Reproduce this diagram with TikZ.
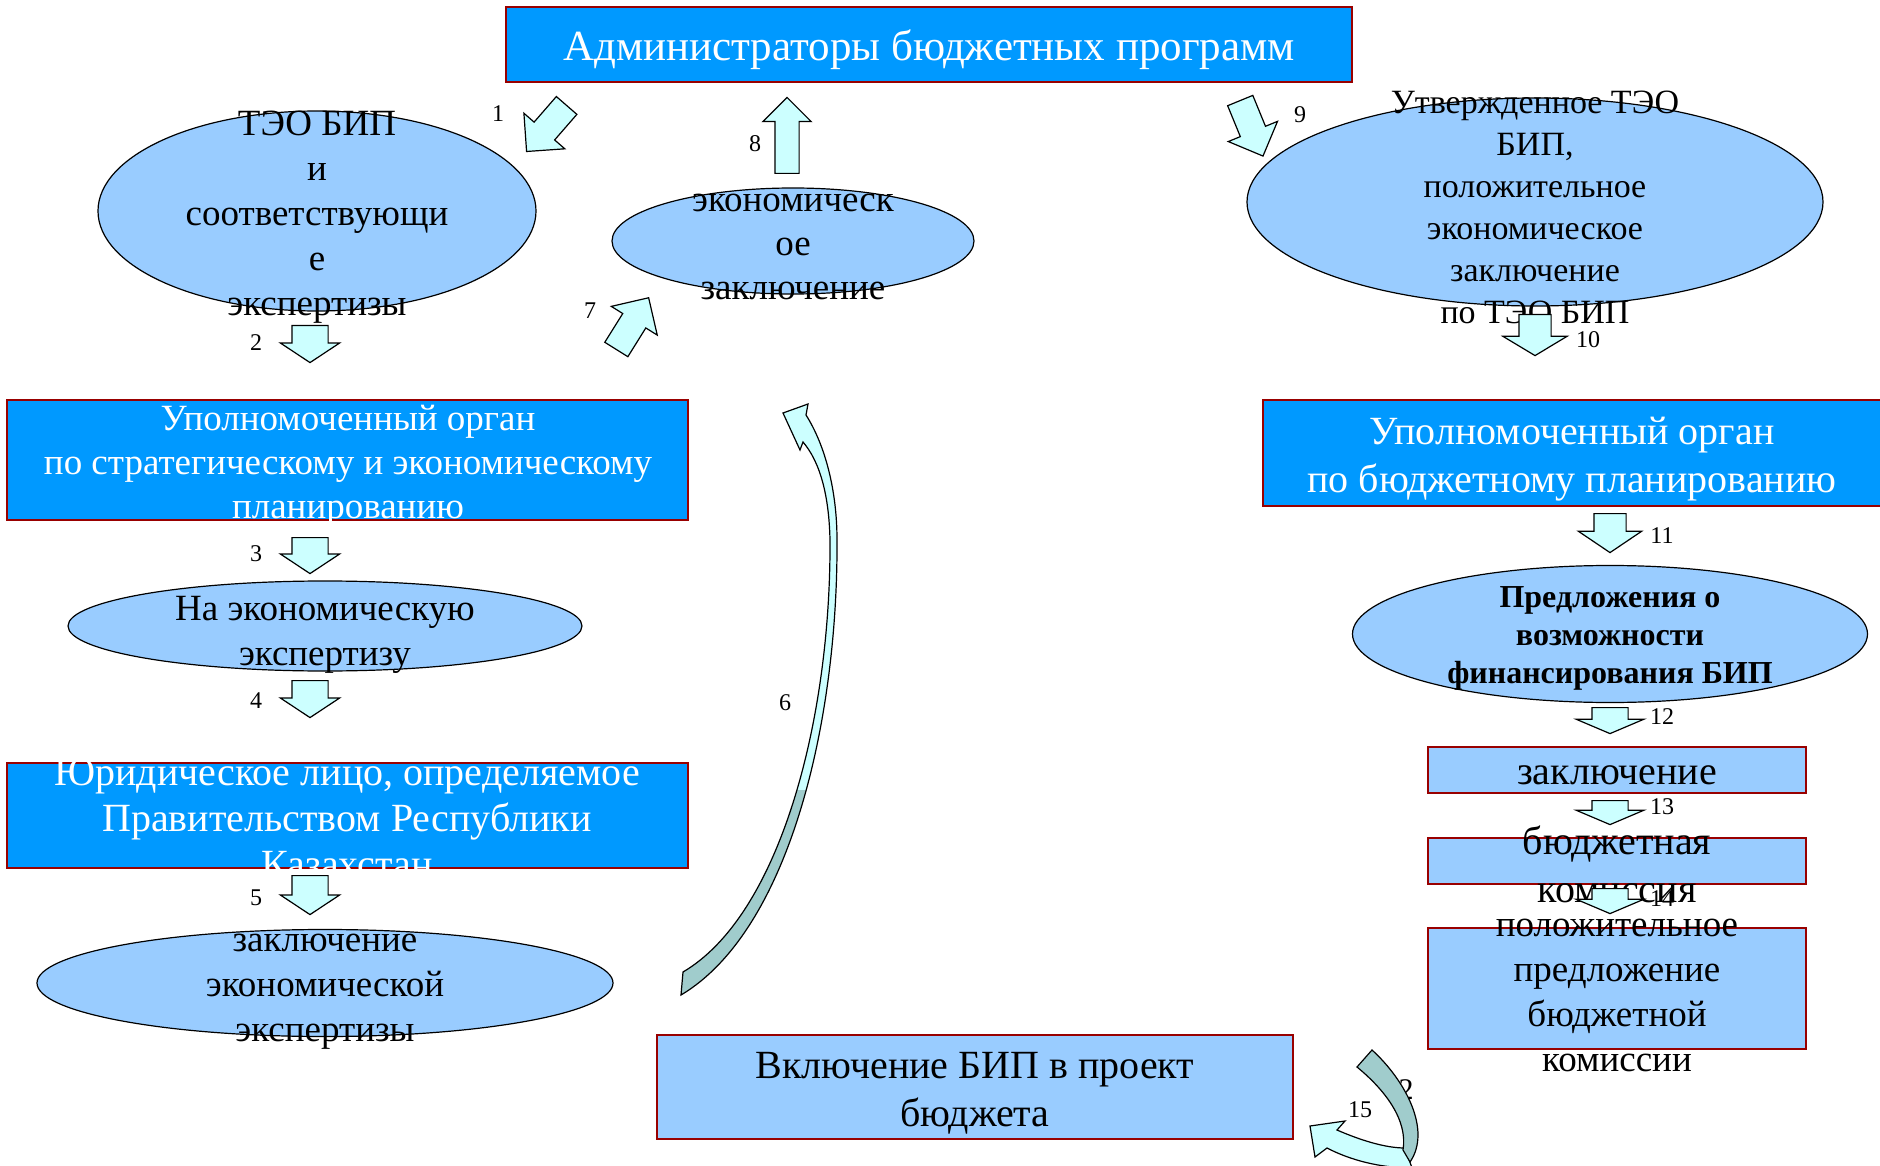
\documentclass[tikz,border=0pt]{standalone}
\usepackage{fontspec}
\setmainfont{Liberation Serif}
\usepackage{tikz}
\usetikzlibrary{shapes}
\usetikzlibrary{shapes.arrows}
\usetikzlibrary{positioning}

\definecolor{boxblue}{RGB}{0,153,255}
\definecolor{ellblue}{RGB}{153,204,255}
\definecolor{boxred}{RGB}{153,0,0}
\definecolor{arrcyan}{RGB}{204,255,255}
\definecolor{arrteal}{RGB}{160,204,204}

% curved arrow 6 and the turning arrow 15
\newcommand{\sixribbon}{(806,415) .. controls (825,445) and (837,490) .. (837,540)
  .. controls (838,720) and (790,930) .. (681,995) -- (683,972)
  .. controls (780,915) and (831,720) .. (830,540)
  .. controls (829,495) and (820,462) .. (803,442)
  -- (800,450) -- (783,413) -- (808,404) -- cycle}
\newcommand{\fifteenhead}{(1405,1148) .. controls (1385,1148) and (1360,1140) .. (1337,1130)
  -- (1345,1121) -- (1310,1126) -- (1315,1157) -- (1327,1148)
  .. controls (1350,1160) and (1380,1168) .. (1412,1168) -- cycle}
\newcommand{\fifteentail}{(1357,1067) -- (1372,1050)
  .. controls (1405,1080) and (1432,1130) .. (1410,1162) -- (1403,1150)
  .. controls (1408,1120) and (1385,1090) .. (1357,1067) -- cycle}

\begin{document}
\begin{tikzpicture}[x=1pt,y=-1pt]
\tikzstyle{bluebox} = [rectangle, draw=boxred, line width=2pt, fill=boxblue]
\tikzstyle{paleblock} = [rectangle, draw=boxred, line width=2pt, fill=ellblue]
\tikzstyle{cloud} = [ellipse, draw=black, line width=1.2pt, fill=ellblue]
\tikzstyle{whitetext} = [text=white, align=center, inner sep=0pt]
\tikzstyle{blacktext} = [align=center, inner sep=0pt]
\tikzstyle{num} = [inner sep=0pt, font=\fontsize{24}{28}\selectfont]
\tikzstyle{barrow} = [single arrow, draw=black, line width=1.2pt, fill=arrcyan, inner xsep=0pt, anchor=tail]
\tikzstyle{downbig} = [barrow, rotate=-90, inner ysep=17.5pt, minimum width=58, single arrow head extend=11.5, single arrow tip angle=113]
\tikzstyle{downflat} = [barrow, rotate=-90, inner ysep=17.5pt, minimum width=66, single arrow head extend=15.5, single arrow tip angle=134]
\tikzstyle{slant} = [barrow, inner ysep=13pt, minimum height=61, minimum width=53, single arrow head extend=13.5]

\useasboundingbox (0,0) rectangle (1880,1166);

% top
\node[bluebox, minimum width=846, minimum height=75] (admin) at (929,44.5) {};
\node[whitetext, font=\fontsize{43}{50}\selectfont] (admin-t) at (929,50) {Администраторы бюджетных программ};

% left column
\node[cloud, minimum width=438, minimum height=200] (teo) at (317,211) {};
\node[blacktext, font=\fontsize{37}{45}\selectfont] (teo-t) at (317,217) {ТЭО БИП\\и\\соответствующи\\е\\экспертизы};
\node[bluebox, minimum width=681, minimum height=120] (upso) at (347,460) {};
\node[whitetext, font=\fontsize{37}{44}\selectfont] (upso-t) at (348,466) {Уполномоченный орган\\по стратегическому и экономическому\\планированию};
\node[cloud, minimum width=514, minimum height=90] (naek) at (325,626) {};
\node[blacktext, font=\fontsize{37}{45}\selectfont] (naek-t) at (325,634.5) {На экономическую\\экспертизу};
\node[bluebox, minimum width=681, minimum height=105] (yurl) at (347,815) {};
\node[whitetext, font=\fontsize{40}{46}\selectfont] (yurl-t) at (347,818) {Юридическое лицо, определяемое\\Правительством Республики\\Казахстан};
\node[cloud, minimum width=576, minimum height=107] (zaek) at (325,983) {};
\node[blacktext, font=\fontsize{37}{45}\selectfont] (zaek-t) at (325,992) {заключение\\экономической\\экспертизы};

% middle
\node[cloud, minimum width=362, minimum height=106] (ekon) at (793,241) {};
\node[blacktext, font=\fontsize{37}{44}\selectfont] (ekon-t) at (793,246.5) {экономическ\\ое\\заключение};
\node[paleblock, minimum width=636, minimum height=104] (vkl) at (975,1087) {};
\node[blacktext, font=\fontsize{40}{48}\selectfont] (vkl-t) at (975,1093.5) {Включение БИП в проект\\бюджета};

% right column
\node[cloud, minimum width=576, minimum height=208] (utv) at (1535,202) {};
\node[blacktext, font=\fontsize{34}{42}\selectfont] (utv-t) at (1535,207) {Утвержденное ТЭО\\БИП,\\положительное\\экономическое\\заключение\\по ТЭО БИП};
\node[bluebox, minimum width=640, minimum height=106] (upbp) at (1583,453) {};
\node[whitetext, font=\fontsize{40}{48}\selectfont] (upbp-t) at (1572,459.5) {Уполномоченный орган\\по бюджетному планированию};
\node[cloud, minimum width=515, minimum height=137] (pred) at (1610,634) {};
\node[blacktext, font=\fontsize{32}{38}\bfseries] (pred-t) at (1610,638.5) {Предложения о\\возможности\\финансирования БИП};
\node[paleblock, minimum width=378, minimum height=46] (zakl) at (1617,770) {};
\node[blacktext, font=\fontsize{40}{48}\selectfont] (zakl-t) at (1617,775.5) {заключение};
\node[paleblock, minimum width=378, minimum height=46] (bkom) at (1617,861) {};
\node[blacktext, font=\fontsize{40}{48}\selectfont] (bkom-t) at (1617,864) {бюджетная\\комиссия};
\node[paleblock, minimum width=378, minimum height=121] (pkom) at (1617,988) {};
\node[blacktext, font=\fontsize{37}{45}\selectfont] (pkom-t) at (1617,995) {положительное\\предложение\\бюджетной\\комиссии};

% block arrows
\node[slant, rotate=229] (a1) at (567,105) {};
\node[downbig, minimum height=37] (a2) at (310,325) {};
\node[downbig, minimum height=36] (a3) at (310,537) {};
\node[downbig, minimum height=37] (a4) at (310,680) {};
\node[downbig, minimum height=39] (a5) at (310,875) {};
\node[slant, rotate=58] (a7) at (616,350) {};
\node[barrow, rotate=90, inner ysep=11.5pt, minimum height=76, minimum width=47, single arrow head extend=12] (a8) at (787,174) {};
\node[slant, rotate=-67.7, minimum height=60, minimum width=52, single arrow head extend=13] (a9) at (1240,100) {};
\node[barrow, rotate=-90, inner ysep=15.5pt, minimum height=41, minimum width=63, single arrow head extend=16, single arrow tip angle=118] (a10) at (1535,314) {};
\node[barrow, rotate=-90, inner ysep=15.5pt, minimum height=39, minimum width=62, single arrow head extend=15.5, single arrow tip angle=112] (a11) at (1610,513) {};
\node[downflat, minimum height=26] (a12) at (1610,707) {};
\node[downflat, minimum height=24] (a13) at (1610,800) {};
\node[downflat, minimum height=25] (a14) at (1610,888) {};

% curved arrows
\fill[arrcyan] \sixribbon;
\begin{scope}
\clip (600,790) rectangle (900,1000);
\fill[arrteal] \sixribbon;
\end{scope}
\draw[line width=1.2pt] \sixribbon;
\node[inner sep=0pt, font=\fontsize{30}{36}\selectfont] (q15) at (1406,1090) {2};
\filldraw[fill=arrcyan, draw=black, line width=1.2pt] \fifteenhead;
\filldraw[fill=arrteal, draw=black, line width=1.2pt] \fifteentail;

% numbers
\node[num] (n1) at (498,114) {1};
\node[num] (n2) at (256,343) {2};
\node[num] (n3) at (256,554) {3};
\node[num] (n4) at (256,701) {4};
\node[num] (n5) at (256,898) {5};
\node[num] (n6) at (785,703) {6};
\node[num] (n7) at (590,311) {7};
\node[num] (n8) at (755,144) {8};
\node[num] (n9) at (1300,115) {9};
\node[num] (n10) at (1588,340) {10};
\node[num] (n11) at (1662,536) {11};
\node[num] (n12) at (1662,717) {12};
\node[num] (n13) at (1662,807) {13};
\node[num] (n14) at (1662,899) {14};
\node[num] (n15) at (1360,1110) {15};
\end{tikzpicture}
\end{document}
